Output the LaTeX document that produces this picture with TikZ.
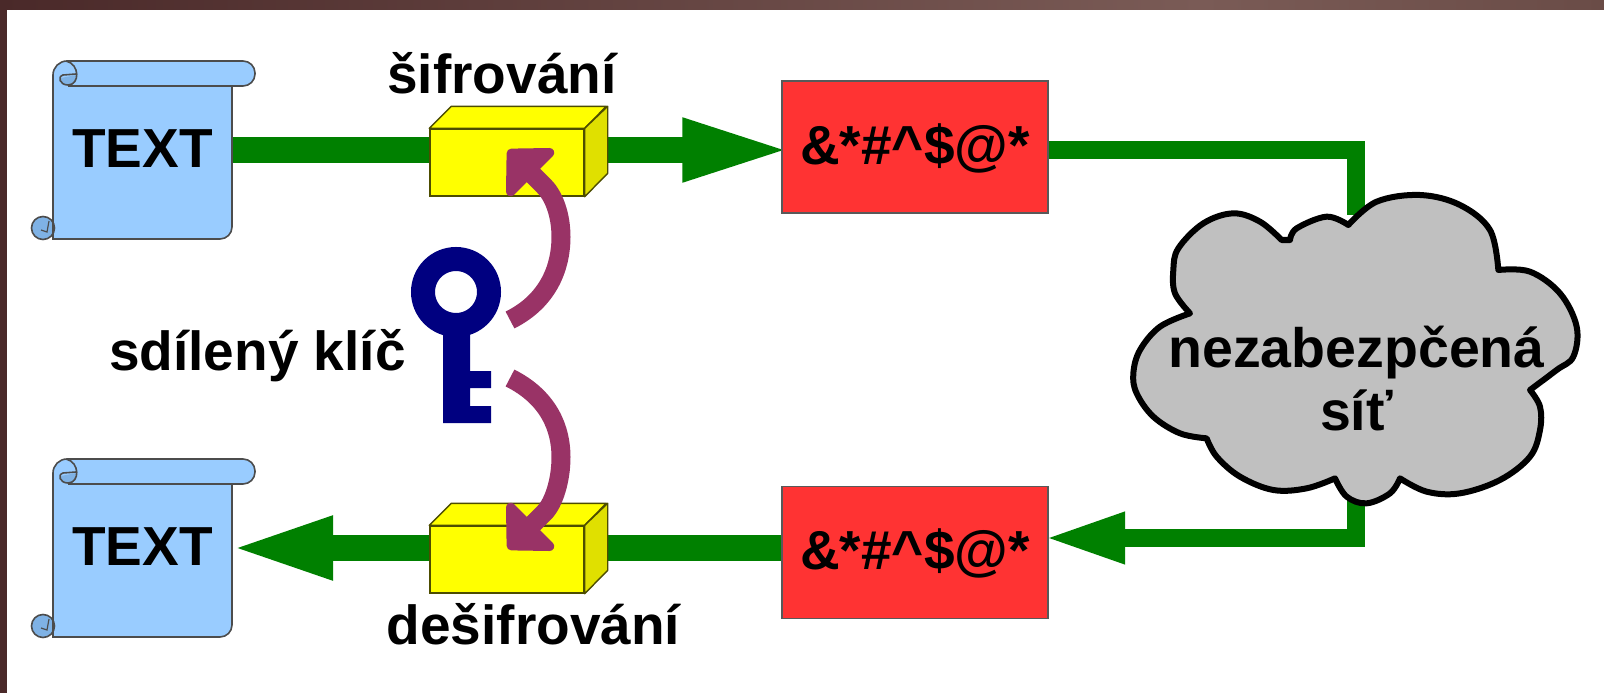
\documentclass[tikz,border=0pt]{standalone}
\usepackage{fontspec}
\setmainfont{Liberation Sans}
\usepackage{xcolor}
\usetikzlibrary{arrows.meta,positioning,calc}
\pgfdeclarelayer{bg}
\pgfsetlayers{bg,main}
\definecolor{framedark}{HTML}{4A2929}
\definecolor{framelight}{HTML}{7A5B56}
\definecolor{frameend}{HTML}{6A4C47}
\definecolor{linkgreen}{HTML}{008000}
\definecolor{scrollblue}{HTML}{99CCFF}
\definecolor{curlblue}{HTML}{7FB2E5}
\definecolor{cipherred}{HTML}{FF3333}
\definecolor{lockyellow}{HTML}{FFFF00}
\definecolor{lockedge}{HTML}{4D4D00}
\definecolor{sidegold}{HTML}{E0E000}
\definecolor{keynavy}{HTML}{000080}
\definecolor{arcplum}{HTML}{993366}
\definecolor{cloudgrey}{HTML}{C0C0C0}
\tikzset{
  bigtext/.style = {font = \fontsize{55}{63}\selectfont\bfseries, inner sep = 0pt},
  scrolltext/.style = {bigtext, minimum width = 179pt, text height = 35pt, text depth = 0pt},
  scrollline/.style = {draw = black!70, line width = 1.6pt, fill = scrollblue},
  cipherbox/.style = {bigtext, draw = black!65, line width = 1.4pt, fill = cipherred,
    minimum width = 266pt, minimum height = 132pt, text height = 34pt, text depth = 0pt},
  lockbox/.style = {draw = lockedge, line width = 1.4pt, fill = lockyellow,
    minimum width = 154pt, minimum height = 67pt, inner sep = 0pt},
  boxface/.style = {draw = lockedge, line width = 1.4pt, line join = round},
  widelink/.style = {draw = linkgreen, line width = 26pt},
  thinlink/.style = {draw = linkgreen, line width = 18pt},
  keyarc/.style = {draw = arcplum, line width = 19pt,
    -{Triangle[length = 38pt, width = 76pt, round]}},
  scrollpic/.pic = {
    \draw[scrollline] (232,80) [rounded corners = 12pt] -- (232,239) [sharp corners] -- (53,239)
      [rounded corners = 14pt] -- (53,61) -- (232,61) [sharp corners] -- cycle;
    \draw[scrollline, rounded corners = 12pt] (70,61) -- (255,61) -- (255,86) -- (68,86);
    \fill[curlblue] (61,78) -- (76,75) .. controls (77,82) and (73,85) .. (68,85)
      .. controls (62,85) and (59,82) .. (61,78);
    \draw[draw = black!70, line width = 1.6pt] (66,61) .. controls (80,64) and (80,85) .. (68,85)
      .. controls (60,85) and (57,77) .. (63,75) -- (76,74);
    \draw[draw = black!70, line width = 1.6pt, fill = curlblue] (43,228) circle (11.5);
    \draw[draw = black!70, line width = 1.2pt] (49,221) -- (47,232) -- (41,230);
    \draw[draw = black!70, line width = 1.6pt] (53,215) -- (53,239);
  }
}
\begin{document}
\begin{tikzpicture}[x = 1pt, y = -1pt]
  \useasboundingbox (0,0) rectangle (1604,693);

  \pic at (0,0) {scrollpic};
  \pic at (0,398) {scrollpic};
  \node[scrolltext] (plaina) at (142.5,150) {TEXT};
  \node[scrolltext] (plainb) at (142.5,548) {TEXT};
  \node[lockbox] (boxa) at (507,162.5) {};
  \node[lockbox] (boxb) at (507,559.5) {};
  \node[cipherbox] (reda) at (915,147) {\&*\#\^{}\$@*};
  \node[cipherbox] (redb) at (915,552.5) {\&*\#\^{}\$@*};
  \node[bigtext, anchor = base] (enclabel) at (502,93) {šifrování};
  \node[bigtext, anchor = base] (declabel) at (533.5,644) {dešifrování};
  \node[bigtext, anchor = base] (keylabel) at (257.5,370) {sdílený klíč};
  \coordinate (cloudtop) at (1355.5,215);
  \coordinate (cloudbot) at (1355.5,490);
  \coordinate (inlet) at (1048,538);
  \coordinate (keya) at (510,320);
  \coordinate (keyb) at (510,378);
  \coordinate (tipa) at (508,150);
  \coordinate (tipb) at (508,549);

  \begin{pgfonlayer}{bg}
    \fill[white] (0,0) rectangle (1604,693);
    \shade[left color = framedark, right color = framelight] (0,0) rectangle (1200,10);
    \shade[left color = framelight, right color = frameend] (1200,0) rectangle (1604,10);
    \fill[framedark] (0,0) rectangle (7,693);
    \draw[widelink] (plaina.east) -- (plaina.east -| boxa.west);
    \draw[widelink, shorten > = -14pt, -{Triangle[length = 113pt, width = 56pt]}] (plaina.east -| boxa.east) -- (plaina.east -| reda.west);
    \draw[thinlink] (plaina.east -| reda.east) -| (cloudtop);
    \draw[thinlink, shorten > = -4pt, -{Triangle[length = 81pt, width = 47pt]}] (cloudbot) |- (inlet);
    \draw[widelink] (plainb.east -| redb.west) -- (plainb.east -| boxb.east);
    \draw[widelink, shorten > = -6pt, -{Triangle[length = 107pt, width = 56pt]}] (plainb.east -| boxb.west) -- (plainb.east);
  \end{pgfonlayer}

  \foreach \b in {boxa,boxb} {
    \draw[boxface, fill = lockyellow] (\b.north west) -- ++(22,-22) -- ++(155,0) -- ($(\b.north east)$) -- cycle;
    \draw[boxface, fill = sidegold] (\b.north east) -- ++(23,-22) -- ++(0,67) -- (\b.south east) -- cycle;
  }

  % the shared key
  \draw[keynavy, line width = 24pt] (456,292) circle (33);
  \fill[keynavy] (443,330) -- (470,330) -- (470,371) -- (491,371) -- (491,388) -- (470,388)
    -- (470,406) -- (491,406) -- (491,423) -- (443,423) -- cycle;
  \draw[keyarc] (keya) .. controls (550,300) and (561,265) .. (561,237)
    .. controls (561,215) and (554,196) .. (544,186) -- (tipa);
  \draw[keyarc] (keyb) .. controls (550,398) and (561,430) .. (561,457)
    .. controls (561,480) and (554,503) .. (544,513) -- (tipb);

  % network cloud
  \begin{scope}[shift = {(1100,130)}, scale = 1/3]
    \draw[line width = 6pt, fill = cloudgrey, line join = round] plot[smooth, tension = .6] coordinates
      {(745,285) (830,215) (960,195) (1080,225) (1170,300) (1195,420)}
      -- plot[smooth, tension = .6] coordinates
      {(1195,420) (1290,425) (1380,490) (1430,590) (1420,680) (1370,720) (1290,780)}
      -- plot[smooth, tension = .6] coordinates
      {(1290,780) (1320,830) (1320,900) (1290,980) (1200,1050) (1080,1090) (980,1085) (900,1045)}
      -- plot[smooth, tension = .6] coordinates
      {(900,1045) (870,1090) (800,1120) (740,1100) (705,1045)}
      -- plot[smooth, tension = .6] coordinates
      {(705,1045) (620,1075) (520,1080) (420,1040) (350,980) (320,925)}
      -- plot[smooth, tension = .6] coordinates
      {(320,925) (240,910) (160,860) (110,790) (100,730) (120,660) (180,590) (270,550)}
      -- plot[smooth, tension = .6] coordinates
      {(270,550) (225,490) (220,420) (235,355) (310,280) (400,250) (480,275) (545,330)}
      -- (570,330) -- plot[smooth, tension = .6] coordinates
      {(570,330) (590,295) (680,260) (745,285)} -- cycle;
  \end{scope}
  \node[bigtext, anchor = base] (cloudlinea) at (1356.5,367) {\fontsize{55.5}{63}\selectfont nezabezpčená};
  \node[bigtext, anchor = base] (cloudlineb) at (1356.5,430) {\fontsize{55.5}{63}\selectfont síť};
\end{tikzpicture}
\end{document}
